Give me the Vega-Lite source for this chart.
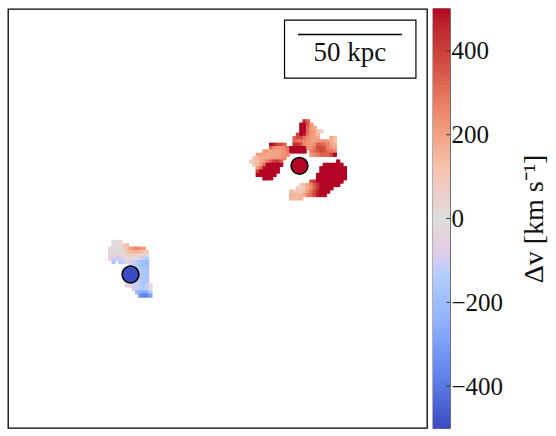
{"$schema":"https://vega.github.io/schema/vega-lite/v6.json","background":"white","padding":{"left":7,"top":7,"right":0,"bottom":0},"spacing":4,"config":{"view":{"stroke":"#000","strokeWidth":1.3},"font":"Liberation Serif"},
"datasets":{"cells":[
{"c":88,"r":33,"v":430},{"c":89,"r":33,"v":330},
{"c":87,"r":34,"v":500},{"c":88,"r":34,"v":500},{"c":89,"r":34,"v":350},{"c":90,"r":34,"v":230},
{"c":87,"r":35,"v":500},{"c":88,"r":35,"v":500},{"c":89,"r":35,"v":320},{"c":90,"r":35,"v":220},{"c":91,"r":35,"v":190},
{"c":87,"r":36,"v":500},{"c":88,"r":36,"v":500},{"c":89,"r":36,"v":320},{"c":90,"r":36,"v":230},{"c":91,"r":36,"v":210},{"c":92,"r":36,"v":130},{"c":93,"r":36,"v":70},
{"c":86,"r":37,"v":400},{"c":87,"r":37,"v":500},{"c":88,"r":37,"v":480},{"c":89,"r":37,"v":290},{"c":90,"r":37,"v":230},{"c":91,"r":37,"v":200},{"c":92,"r":37,"v":140},
{"c":85,"r":38,"v":330},{"c":86,"r":38,"v":380},{"c":87,"r":38,"v":380},{"c":88,"r":38,"v":300},{"c":89,"r":38,"v":250},{"c":90,"r":38,"v":220},{"c":91,"r":38,"v":200},{"c":92,"r":38,"v":180},{"c":96,"r":38,"v":190},{"c":97,"r":38,"v":140},
{"c":85,"r":39,"v":320},{"c":86,"r":39,"v":300},{"c":87,"r":39,"v":290},{"c":88,"r":39,"v":260},{"c":89,"r":39,"v":240},{"c":90,"r":39,"v":210},{"c":91,"r":39,"v":200},{"c":92,"r":39,"v":220},{"c":93,"r":39,"v":230},{"c":94,"r":39,"v":240},{"c":95,"r":39,"v":220},{"c":96,"r":39,"v":180},{"c":97,"r":39,"v":130},
{"c":78,"r":40,"v":500},{"c":79,"r":40,"v":480},{"c":80,"r":40,"v":400},{"c":81,"r":40,"v":380},{"c":82,"r":40,"v":340},{"c":85,"r":40,"v":450},{"c":86,"r":40,"v":440},{"c":87,"r":40,"v":380},{"c":88,"r":40,"v":260},{"c":89,"r":40,"v":230},{"c":90,"r":40,"v":220},{"c":91,"r":40,"v":250},{"c":92,"r":40,"v":340},{"c":93,"r":40,"v":330},{"c":94,"r":40,"v":300},{"c":95,"r":40,"v":270},{"c":96,"r":40,"v":200},{"c":97,"r":40,"v":170},
{"c":78,"r":41,"v":330},{"c":79,"r":41,"v":260},{"c":80,"r":41,"v":230},{"c":81,"r":41,"v":240},{"c":82,"r":41,"v":260},{"c":83,"r":41,"v":300},{"c":84,"r":41,"v":500},{"c":85,"r":41,"v":500},{"c":86,"r":41,"v":500},{"c":87,"r":41,"v":500},{"c":88,"r":41,"v":500},{"c":89,"r":41,"v":240},{"c":90,"r":41,"v":230},{"c":91,"r":41,"v":280},{"c":92,"r":41,"v":380},{"c":93,"r":41,"v":380},{"c":94,"r":41,"v":360},{"c":95,"r":41,"v":280},{"c":96,"r":41,"v":230},{"c":97,"r":41,"v":200},
{"c":76,"r":42,"v":230},{"c":77,"r":42,"v":220},{"c":78,"r":42,"v":190},{"c":79,"r":42,"v":200},{"c":80,"r":42,"v":200},{"c":81,"r":42,"v":210},{"c":82,"r":42,"v":230},{"c":83,"r":42,"v":280},{"c":84,"r":42,"v":500},{"c":85,"r":42,"v":500},{"c":86,"r":42,"v":500},{"c":87,"r":42,"v":500},{"c":88,"r":42,"v":500},{"c":90,"r":42,"v":270},{"c":91,"r":42,"v":310},{"c":92,"r":42,"v":350},{"c":93,"r":42,"v":400},{"c":94,"r":42,"v":370},{"c":95,"r":42,"v":310},{"c":96,"r":42,"v":300},{"c":97,"r":42,"v":270},
{"c":74,"r":43,"v":200},{"c":75,"r":43,"v":210},{"c":76,"r":43,"v":200},{"c":77,"r":43,"v":180},{"c":78,"r":43,"v":190},{"c":79,"r":43,"v":190},{"c":80,"r":43,"v":200},{"c":81,"r":43,"v":220},{"c":82,"r":43,"v":240},{"c":83,"r":43,"v":250},{"c":90,"r":43,"v":220},{"c":91,"r":43,"v":250},{"c":92,"r":43,"v":280},{"c":93,"r":43,"v":330},{"c":94,"r":43,"v":320},{"c":95,"r":43,"v":330},{"c":96,"r":43,"v":380},{"c":97,"r":43,"v":500},
{"c":73,"r":44,"v":120},{"c":74,"r":44,"v":150},{"c":75,"r":44,"v":180},{"c":76,"r":44,"v":180},{"c":77,"r":44,"v":190},{"c":78,"r":44,"v":200},{"c":79,"r":44,"v":200},{"c":80,"r":44,"v":210},{"c":81,"r":44,"v":220},{"c":82,"r":44,"v":250},
{"c":72,"r":45,"v":60},{"c":73,"r":45,"v":90},{"c":74,"r":45,"v":140},{"c":75,"r":45,"v":180},{"c":76,"r":45,"v":220},{"c":77,"r":45,"v":270},{"c":78,"r":45,"v":340},{"c":79,"r":45,"v":400},{"c":80,"r":45,"v":420},{"c":81,"r":45,"v":350},{"c":98,"r":45,"v":500},
{"c":73,"r":46,"v":100},{"c":74,"r":46,"v":150},{"c":75,"r":46,"v":220},{"c":76,"r":46,"v":300},{"c":77,"r":46,"v":500},{"c":78,"r":46,"v":500},{"c":79,"r":46,"v":500},{"c":80,"r":46,"v":500},{"c":81,"r":46,"v":500},{"c":94,"r":46,"v":500},{"c":95,"r":46,"v":500},{"c":96,"r":46,"v":500},{"c":97,"r":46,"v":500},{"c":98,"r":46,"v":500},{"c":99,"r":46,"v":500},
{"c":74,"r":47,"v":200},{"c":75,"r":47,"v":300},{"c":76,"r":47,"v":480},{"c":77,"r":47,"v":500},{"c":78,"r":47,"v":500},{"c":79,"r":47,"v":500},{"c":80,"r":47,"v":500},{"c":93,"r":47,"v":500},{"c":94,"r":47,"v":500},{"c":95,"r":47,"v":500},{"c":96,"r":47,"v":500},{"c":97,"r":47,"v":500},{"c":98,"r":47,"v":500},{"c":99,"r":47,"v":500},{"c":100,"r":47,"v":500},
{"c":74,"r":48,"v":400},{"c":75,"r":48,"v":500},{"c":76,"r":48,"v":500},{"c":77,"r":48,"v":500},{"c":78,"r":48,"v":500},{"c":79,"r":48,"v":500},{"c":80,"r":48,"v":500},{"c":93,"r":48,"v":500},{"c":94,"r":48,"v":500},{"c":95,"r":48,"v":500},{"c":96,"r":48,"v":500},{"c":97,"r":48,"v":500},{"c":98,"r":48,"v":500},{"c":99,"r":48,"v":500},{"c":100,"r":48,"v":500},
{"c":74,"r":49,"v":500},{"c":75,"r":49,"v":500},{"c":76,"r":49,"v":500},{"c":77,"r":49,"v":500},{"c":78,"r":49,"v":500},{"c":79,"r":49,"v":500},{"c":92,"r":49,"v":500},{"c":93,"r":49,"v":500},{"c":94,"r":49,"v":500},{"c":95,"r":49,"v":500},{"c":96,"r":49,"v":500},{"c":97,"r":49,"v":500},{"c":98,"r":49,"v":500},{"c":99,"r":49,"v":500},{"c":100,"r":49,"v":500},
{"c":76,"r":50,"v":500},{"c":77,"r":50,"v":500},{"c":78,"r":50,"v":500},{"c":92,"r":50,"v":500},{"c":93,"r":50,"v":500},{"c":94,"r":50,"v":500},{"c":95,"r":50,"v":500},{"c":96,"r":50,"v":500},{"c":97,"r":50,"v":500},{"c":98,"r":50,"v":500},{"c":99,"r":50,"v":500},{"c":100,"r":50,"v":500},
{"c":90,"r":51,"v":380},{"c":91,"r":51,"v":420},{"c":92,"r":51,"v":500},{"c":93,"r":51,"v":500},{"c":94,"r":51,"v":500},{"c":95,"r":51,"v":500},{"c":96,"r":51,"v":500},{"c":97,"r":51,"v":500},{"c":98,"r":51,"v":500},{"c":99,"r":51,"v":500},
{"c":87,"r":52,"v":90},{"c":88,"r":52,"v":140},{"c":89,"r":52,"v":200},{"c":90,"r":52,"v":250},{"c":91,"r":52,"v":350},{"c":92,"r":52,"v":420},{"c":93,"r":52,"v":500},{"c":94,"r":52,"v":500},{"c":95,"r":52,"v":500},{"c":96,"r":52,"v":500},{"c":97,"r":52,"v":500},{"c":98,"r":52,"v":500},
{"c":86,"r":53,"v":70},{"c":87,"r":53,"v":40},{"c":88,"r":53,"v":120},{"c":89,"r":53,"v":180},{"c":90,"r":53,"v":240},{"c":91,"r":53,"v":330},{"c":92,"r":53,"v":430},{"c":93,"r":53,"v":500},{"c":94,"r":53,"v":500},{"c":95,"r":53,"v":500},{"c":96,"r":53,"v":500},
{"c":84,"r":54,"v":150},{"c":85,"r":54,"v":120},{"c":86,"r":54,"v":100},{"c":87,"r":54,"v":90},{"c":88,"r":54,"v":150},{"c":89,"r":54,"v":220},{"c":90,"r":54,"v":300},{"c":91,"r":54,"v":370},{"c":92,"r":54,"v":460},{"c":93,"r":54,"v":500},{"c":94,"r":54,"v":500},{"c":95,"r":54,"v":500},
{"c":84,"r":55,"v":160},{"c":85,"r":55,"v":160},{"c":86,"r":55,"v":150},{"c":87,"r":55,"v":150},{"c":88,"r":55,"v":180},{"c":89,"r":55,"v":280},{"c":90,"r":55,"v":320},{"c":91,"r":55,"v":380},{"c":92,"r":55,"v":480},{"c":93,"r":55,"v":500},{"c":94,"r":55,"v":500},
{"c":84,"r":56,"v":150},{"c":85,"r":56,"v":150},{"c":86,"r":56,"v":150},{"c":87,"r":56,"v":150},
{"c":31,"r":69,"v":10},{"c":32,"r":69,"v":10},{"c":33,"r":69,"v":20},
{"c":31,"r":70,"v":5},{"c":32,"r":70,"v":5},{"c":33,"r":70,"v":10},{"c":34,"r":70,"v":70},{"c":35,"r":70,"v":140},
{"c":30,"r":71,"v":-20},{"c":31,"r":71,"v":-10},{"c":32,"r":71,"v":0},{"c":33,"r":71,"v":10},{"c":34,"r":71,"v":40},{"c":35,"r":71,"v":110},{"c":36,"r":71,"v":200},{"c":37,"r":71,"v":250},{"c":38,"r":71,"v":260},{"c":39,"r":71,"v":240},{"c":40,"r":71,"v":220},
{"c":30,"r":72,"v":-20},{"c":31,"r":72,"v":-20},{"c":32,"r":72,"v":-10},{"c":33,"r":72,"v":-10},{"c":34,"r":72,"v":30},{"c":35,"r":72,"v":90},{"c":36,"r":72,"v":150},{"c":37,"r":72,"v":160},{"c":38,"r":72,"v":170},{"c":39,"r":72,"v":160},{"c":40,"r":72,"v":130},{"c":41,"r":72,"v":90},
{"c":30,"r":73,"v":-40},{"c":31,"r":73,"v":-40},{"c":32,"r":73,"v":-50},{"c":33,"r":73,"v":-50},{"c":34,"r":73,"v":-10},{"c":35,"r":73,"v":40},{"c":36,"r":73,"v":70},{"c":37,"r":73,"v":70},{"c":38,"r":73,"v":60},{"c":39,"r":73,"v":50},{"c":40,"r":73,"v":30},{"c":41,"r":73,"v":-10},
{"c":30,"r":74,"v":-60},{"c":31,"r":74,"v":-90},{"c":32,"r":74,"v":-110},{"c":33,"r":74,"v":-100},{"c":34,"r":74,"v":-60},{"c":35,"r":74,"v":-20},{"c":36,"r":74,"v":-10},{"c":37,"r":74,"v":-10},{"c":38,"r":74,"v":-20},{"c":39,"r":74,"v":-70},{"c":40,"r":74,"v":-120},{"c":41,"r":74,"v":-150},
{"c":31,"r":75,"v":-150},{"c":33,"r":75,"v":-140},{"c":34,"r":75,"v":-110},{"c":35,"r":75,"v":-60},{"c":36,"r":75,"v":-60},{"c":37,"r":75,"v":-100},{"c":38,"r":75,"v":-130},{"c":39,"r":75,"v":-170},{"c":40,"r":75,"v":-200},{"c":41,"r":75,"v":-210},
{"c":36,"r":76,"v":-80},{"c":37,"r":76,"v":-110},{"c":38,"r":76,"v":-140},{"c":39,"r":76,"v":-170},{"c":40,"r":76,"v":-190},{"c":41,"r":76,"v":-190},
{"c":38,"r":77,"v":-140},{"c":39,"r":77,"v":-150},{"c":40,"r":77,"v":-170},{"c":41,"r":77,"v":-180},
{"c":38,"r":78,"v":-130},{"c":39,"r":78,"v":-130},{"c":40,"r":78,"v":-150},{"c":41,"r":78,"v":-170},
{"c":38,"r":79,"v":-120},{"c":39,"r":79,"v":-140},{"c":40,"r":79,"v":-160},{"c":41,"r":79,"v":-170},
{"c":38,"r":80,"v":-110},{"c":39,"r":80,"v":-130},{"c":40,"r":80,"v":-150},{"c":41,"r":80,"v":-170},
{"c":36,"r":81,"v":-50},{"c":37,"r":81,"v":-90},{"c":38,"r":81,"v":-110},{"c":39,"r":81,"v":-130},{"c":40,"r":81,"v":-160},{"c":41,"r":81,"v":-170},
{"c":35,"r":82,"v":-20},{"c":36,"r":82,"v":-30},{"c":37,"r":82,"v":-90},{"c":38,"r":82,"v":-100},{"c":39,"r":82,"v":-130},{"c":40,"r":82,"v":-150},{"c":41,"r":82,"v":-100},{"c":42,"r":82,"v":-60},
{"c":37,"r":83,"v":-90},{"c":38,"r":83,"v":-110},{"c":39,"r":83,"v":-130},{"c":40,"r":83,"v":-170},{"c":41,"r":83,"v":-120},{"c":42,"r":83,"v":20},
{"c":38,"r":84,"v":-220},{"c":39,"r":84,"v":-240},{"c":40,"r":84,"v":-260},{"c":41,"r":84,"v":-260},{"c":42,"r":84,"v":-120},
{"c":39,"r":85,"v":-340},{"c":40,"r":85,"v":-380},{"c":41,"r":85,"v":-370},{"c":42,"r":85,"v":-300}
],
"bar":[{"v":-495},{"v":-485},{"v":-475},{"v":-465},{"v":-455},{"v":-445},{"v":-435},{"v":-425},{"v":-415},{"v":-405},{"v":-395},{"v":-385},{"v":-375},{"v":-365},{"v":-355},{"v":-345},{"v":-335},{"v":-325},{"v":-315},{"v":-305},{"v":-295},{"v":-285},{"v":-275},{"v":-265},{"v":-255},{"v":-245},{"v":-235},{"v":-225},{"v":-215},{"v":-205},{"v":-195},{"v":-185},{"v":-175},{"v":-165},{"v":-155},{"v":-145},{"v":-135},{"v":-125},{"v":-115},{"v":-105},{"v":-95},{"v":-85},{"v":-75},{"v":-65},{"v":-55},{"v":-45},{"v":-35},{"v":-25},{"v":-15},{"v":-5},{"v":5},{"v":15},{"v":25},{"v":35},{"v":45},{"v":55},{"v":65},{"v":75},{"v":85},{"v":95},{"v":105},{"v":115},{"v":125},{"v":135},{"v":145},{"v":155},{"v":165},{"v":175},{"v":185},{"v":195},{"v":205},{"v":215},{"v":225},{"v":235},{"v":245},{"v":255},{"v":265},{"v":275},{"v":285},{"v":295},{"v":305},{"v":315},{"v":325},{"v":335},{"v":345},{"v":355},{"v":365},{"v":375},{"v":385},{"v":395},{"v":405},{"v":415},{"v":425},{"v":435},{"v":445},{"v":455},{"v":465},{"v":475},{"v":485},{"v":495}]},
"hconcat":[
{"width":419,"height":419,
"layer":[
{"data":{"name":"cells"},"mark":{"type":"rect","width":4.2,"height":4.2},
"encoding":{"x":{"field":"c","type":"quantitative","scale":{"domain":[-0.5,124.5],"nice":false,"zero":false},"axis":null},"y":{"field":"r","type":"quantitative","scale":{"domain":[124.5,-0.5],"nice":false,"zero":false},"axis":null},"color":{"field":"v","type":"quantitative","legend":null,"scale":{"domain":[-500,-375,-250,-125,0,125,250,375,500],"range":["#3b4cc0","#6282ea","#8db0fe","#b7cff9","#dddcdc","#f5c2aa","#f08b6e","#d24b40","#b40426"]}}}},
{"data":{"values":[{"c":86.46,"r":46.3,"v":500},{"c":36.05,"r":78.7,"v":-500}]},"mark":{"type":"point","shape":"circle","filled":true,"size":285,"stroke":"#000","strokeWidth":1.5,"opacity":1},
"encoding":{"x":{"field":"c","type":"quantitative"},"y":{"field":"r","type":"quantitative"},"color":{"field":"v","type":"quantitative","legend":null,"scale":{"domain":[-500,-375,-250,-125,0,125,250,375,500],"range":["#3b4cc0","#6282ea","#8db0fe","#b7cff9","#dddcdc","#f5c2aa","#f08b6e","#d24b40","#b40426"]}},"stroke":{"value":"#000"}}},
{"data":{"values":[{"x1":82,"x2":121.2,"y1":2.8,"y2":20.1}]},"mark":{"type":"rect","fill":null,"stroke":"#000","strokeWidth":1.2},
"encoding":{"x":{"field":"x1","type":"quantitative"},"x2":{"field":"x2"},"y":{"field":"y1","type":"quantitative"},"y2":{"field":"y2"}}},
{"data":{"values":[{"x1":86,"x2":117,"y":7.1}]},"mark":{"type":"rule","stroke":"#000","strokeWidth":1.4},
"encoding":{"x":{"field":"x1","type":"quantitative"},"x2":{"field":"x2"},"y":{"field":"y","type":"quantitative"}}},
{"data":{"values":[{"x":101.5,"y":15,"t":"50 kpc"}]},"mark":{"type":"text","font":"Liberation Serif","fontSize":27,"align":"center","baseline":"alphabetic","color":"#111"},
"encoding":{"x":{"field":"x","type":"quantitative"},"y":{"field":"y","type":"quantitative"},"text":{"field":"t"}}}
]},
{"width":17,"height":419,"view":{"stroke":"#555","strokeWidth":1.3},
"layer":[
{"data":{"name":"bar"},"mark":{"type":"rect","height":5.4},
"encoding":{"x":{"datum":0,"type":"quantitative","scale":{"domain":[0,1],"nice":false},"axis":null},"x2":{"datum":1},"y":{"field":"v","type":"quantitative","scale":{"domain":[-500,500],"nice":false,"zero":false},"axis":{"orient":"right","values":[-400,-200,0,200,400],"format":"d","domain":false,"ticks":false,"grid":false,"labelFont":"Liberation Serif","labelFontSize":25,"labelColor":"#111","labelPadding":1,"title":"Δv [km s⁻¹]","titleFont":"Liberation Serif","titleFontSize":28,"titleFontWeight":"normal","titleColor":"#111","titleAngle":270,"titlePadding":46}},"color":{"field":"v","type":"quantitative","legend":null,"scale":{"domain":[-500,-375,-250,-125,0,125,250,375,500],"range":["#3b4cc0","#6282ea","#8db0fe","#b7cff9","#dddcdc","#f5c2aa","#f08b6e","#d24b40","#b40426"]}}}},
{"data":{"values":[{"v":-400},{"v":-200},{"v":0},{"v":200},{"v":400}]},"mark":{"type":"rule","stroke":"#333","strokeWidth":1},
"encoding":{"x":{"datum":0.78,"type":"quantitative"},"x2":{"datum":1},"y":{"field":"v","type":"quantitative"}}}
]}
]}
